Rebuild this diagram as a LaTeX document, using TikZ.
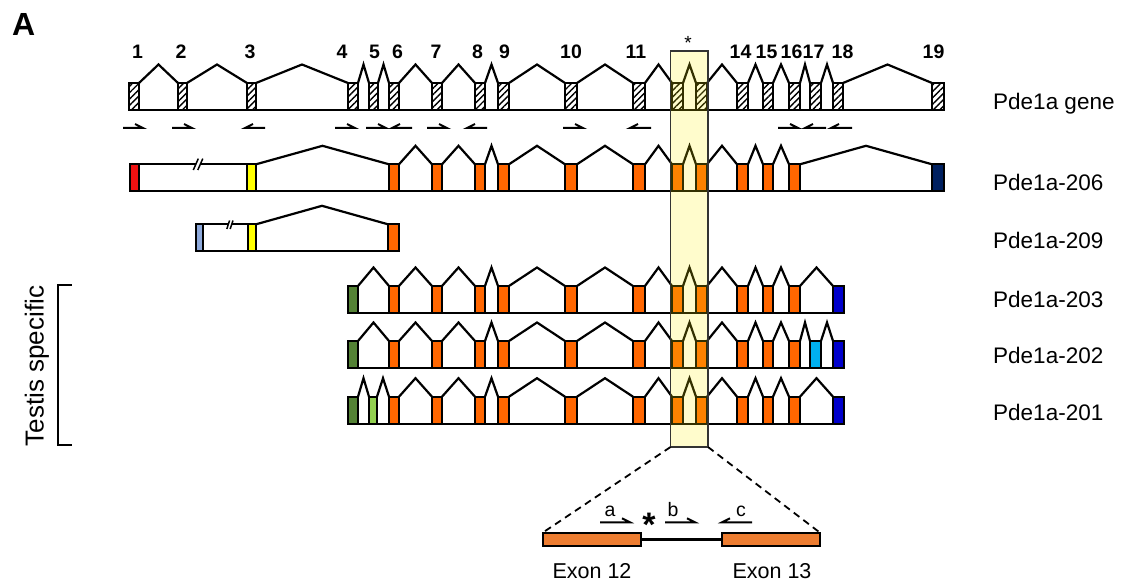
\documentclass[tikz,border=0pt]{standalone}
\usepackage{fontspec}
\setmainfont{Liberation Sans}
\usetikzlibrary{patterns.meta}

\definecolor{exred}{HTML}{EE1111}
\definecolor{exyellow}{HTML}{FFFF00}
\definecolor{exorange}{HTML}{FF6600}
\definecolor{exlblue}{HTML}{8EA9DB}
\definecolor{exdgreen}{HTML}{548235}
\definecolor{exlgreen}{HTML}{92D050}
\definecolor{excyan}{HTML}{00B0F0}
\definecolor{exnavy}{HTML}{002060}
\definecolor{exblue}{HTML}{0000CC}
\definecolor{inorange}{HTML}{ED7D31}
\definecolor{hlyellow}{HTML}{FFF200}

% one transcript: chevrons between consecutive exons, then the exon boxes
% #1 extra exon style, #2 top edge, #3 list left/right/colour
\newcommand\exonrow[3][]{%
  \foreach \l/\r/\c [remember=\r as \pr (initially 0), count=\i] in {#3}{%
    \ifnum\i>1
      \draw[wire] (\pr,#2) -- ({(\pr+\l)/2},{#2-18.5}) -- (\l,#2);
    \fi
    \draw[exonbox,fill=\c,#1] (\l,#2) rectangle (\r,{#2+27});
  }}
% primer half-arrows
\newcommand\fwdprimer[3]{\draw[primer] (#1,#3) -- (#2,#3) -- ++(-8,-4);}
\newcommand\revprimer[3]{\draw[primer] (#2,#3) -- (#1,#3) -- ++(8,-4);}

\begin{document}
\begin{tikzpicture}[x=1pt,y=-1pt,
  wire/.style={line width=2.2pt},
  exonbox/.style={draw=black,line width=2.2pt},
  hatched/.style={pattern={Lines[angle=45,distance=4.5pt,line width=1.4pt]}},
  primer/.style={line width=2pt},
  brkline/.style={line width=1.5pt},
  exnum/.style={font=\fontsize{19.5}{22}\selectfont\bfseries,anchor=base,inner sep=0pt},
  rowlab/.style={font=\fontsize{22.5}{26}\selectfont,anchor=base west,inner sep=0pt},
  hlbox/.style={draw=black!80,line width=1.3pt,fill=hlyellow,fill opacity=0.2,
    anchor=north west,inner sep=0pt,outer sep=0pt},
  inexon/.style={draw=black,line width=2.2pt,fill=inorange,anchor=north west,
    inner sep=0pt,outer sep=0pt,minimum height=13.3pt},
  zoomline/.style={dashed,dash pattern=on 7pt off 5pt,line width=1.8pt},
  small/.style={font=\fontsize{19.5}{22}\selectfont,anchor=base,inner sep=0pt}
]
\useasboundingbox (0,0) rectangle (1124,585);

% panel letter
\node[font=\fontsize{32}{36}\selectfont\bfseries,anchor=base west,inner sep=0pt] (panel) at (12,36) {A};

% ---------------- Pde1a gene ----------------
\draw[wire] (129,110) -- (945,110);
\exonrow[hatched]{83}{129/139/white,178/187/white,247/256/white,348/358/white,
  369/378/white,389/399/white,432/442/white,475/485/white,498/509/white,
  565/577/white,633/645/white,672/683/white,696/707/white,737/748/white,
  763/773/white,789/800/white,810/821/white,833/843/white,932/944/white}

% exon numbers
\foreach \x/\t [count=\k] in {137.5/1,181/2,250/3,342/4,374.5/5,397.5/6,436/7,477.5/8,
  504.5/9,571/10,636/11,740.5/14,766.5/15,791.5/16,813.5/17,842.5/18,933.5/19}
  \node[exnum] (num\k) at (\x,58.5) {\t};

% primers under the gene
\fwdprimer{123}{143}{128}
\fwdprimer{172}{192}{128}
\revprimer{245}{265}{128}
\fwdprimer{335}{355}{128}
\fwdprimer{366}{386}{128}
\revprimer{392}{412}{128}
\fwdprimer{427}{447}{128}
\revprimer{467}{487}{128}
\fwdprimer{563}{583}{128}
\revprimer{630}{651}{128}
\fwdprimer{778}{798}{128}
\revprimer{805}{826}{128}
\revprimer{831}{852}{128}

% ---------------- Pde1a-206 ----------------
\draw[wire] (130,191.3) -- (944,191.3);
\draw[wire] (139,164.3) -- (247,164.3);
\fill[white] (193.3,170) -- (198.3,158.6) -- (202.8,158.6) -- (197.8,170) -- cycle;
\draw[brkline] (193.3,170) -- (198.3,158.6) (197.8,170) -- (202.8,158.6);
\draw[exonbox,fill=exred] (130,164.3) rectangle (139,191.3);
\exonrow{164.3}{247/256/exyellow,389/399/exorange,432/442/exorange,475/485/exorange,
  498/509/exorange,565/577/exorange,633/645/exorange,672/683/exorange,696/707/exorange,
  737/748/exorange,763/773/exorange,789/800/exorange,932/944/exnavy}

% ---------------- Pde1a-209 ----------------
\draw[wire] (196,251.3) -- (399,251.3);
\draw[wire] (203,224.3) -- (248,224.3);
\fill[white] (226.8,229) -- (229.6,220.5) -- (233,220.5) -- (230.2,229) -- cycle;
\draw[brkline] (226.8,229) -- (229.6,220.5) (230.2,229) -- (233,220.5);
\draw[exonbox,fill=exlblue] (196,224.3) rectangle (203,251.3);
\exonrow{224.3}{248/256/exyellow,388/399/exorange}

% ---------------- Pde1a-203 ----------------
\draw[wire] (348,313) -- (844,313);
\exonrow{286}{348/358/exdgreen,389/399/exorange,432/442/exorange,475/485/exorange,
  498/509/exorange,565/577/exorange,633/645/exorange,672/683/exorange,696/707/exorange,
  737/748/exorange,763/773/exorange,789/800/exorange,833/844/exblue}

% ---------------- Pde1a-202 ----------------
\draw[wire] (348,368) -- (844,368);
\exonrow{341}{348/358/exdgreen,389/399/exorange,432/442/exorange,475/485/exorange,
  498/509/exorange,565/577/exorange,633/645/exorange,672/683/exorange,696/707/exorange,
  737/748/exorange,763/773/exorange,789/800/exorange,810/821/excyan,833/844/exblue}

% ---------------- Pde1a-201 ----------------
\draw[wire] (348,423.7) -- (844,423.7);
\exonrow{396.7}{348/358/exdgreen,369/377/exlgreen,389/399/exorange,432/442/exorange,
  475/485/exorange,498/509/exorange,565/577/exorange,633/645/exorange,672/683/exorange,
  696/707/exorange,737/748/exorange,763/773/exorange,789/800/exorange,833/844/exblue}

% transcript names
\node[rowlab] (lgene) at (993,110) {Pde1a gene};
\node[rowlab] (l206) at (993,191) {Pde1a-206};
\node[rowlab] (l209) at (993,249) {Pde1a-209};
\node[rowlab] (l203) at (993,307) {Pde1a-203};
\node[rowlab] (l202) at (993,363) {Pde1a-202};
\node[rowlab] (l201) at (993,420) {Pde1a-201};

% testis-specific bracket
\draw[line width=1.7pt] (71.7,285) -- (58.3,285) -- (58.3,445) -- (71.7,445);
\node[font=\fontsize{26}{30}\selectfont,rotate=90,anchor=base,inner sep=0pt] (testis) at (43.5,366) {Testis specific};

% highlighted exon 12/13 region
\node[hlbox,minimum width=37.5pt,minimum height=396pt] (hl) at (670.5,51) {};
\node[font=\fontsize{19}{20}\selectfont,anchor=base,inner sep=0pt] (star) at (688,50) {*};

% ---------------- enlarged exon 12 / exon 13 ----------------
\node[inexon,minimum width=98pt] (ex12) at (542.7,532.7) {};
\node[inexon,minimum width=98.3pt] (ex13) at (721.7,532.7) {};
\draw[line width=2.6pt] (ex12.east) -- (ex13.west);
\draw[zoomline] (hl.south west) -- (ex12.north west);
\draw[zoomline] (hl.south east) -- (ex13.north east);

\fwdprimer{600}{630}{522.3}
\fwdprimer{665}{695}{522.3}
\revprimer{722}{752}{522.3}
\node[small] (pa) at (610,516.5) {a};
\node[small] (pb) at (673,516.5) {b};
\node[small] (pc) at (741,516.5) {c};
\node[font=\fontsize{34}{36}\selectfont\bfseries,anchor=base,inner sep=0pt] (bigstar) at (649,536) {*};

\node[font=\fontsize{21.5}{24}\selectfont,anchor=base,inner sep=0pt] (t12) at (592,578.3) {Exon 12};
\node[font=\fontsize{21.5}{24}\selectfont,anchor=base,inner sep=0pt] (t13) at (772,578.3) {Exon 13};
\end{tikzpicture}
\end{document}
